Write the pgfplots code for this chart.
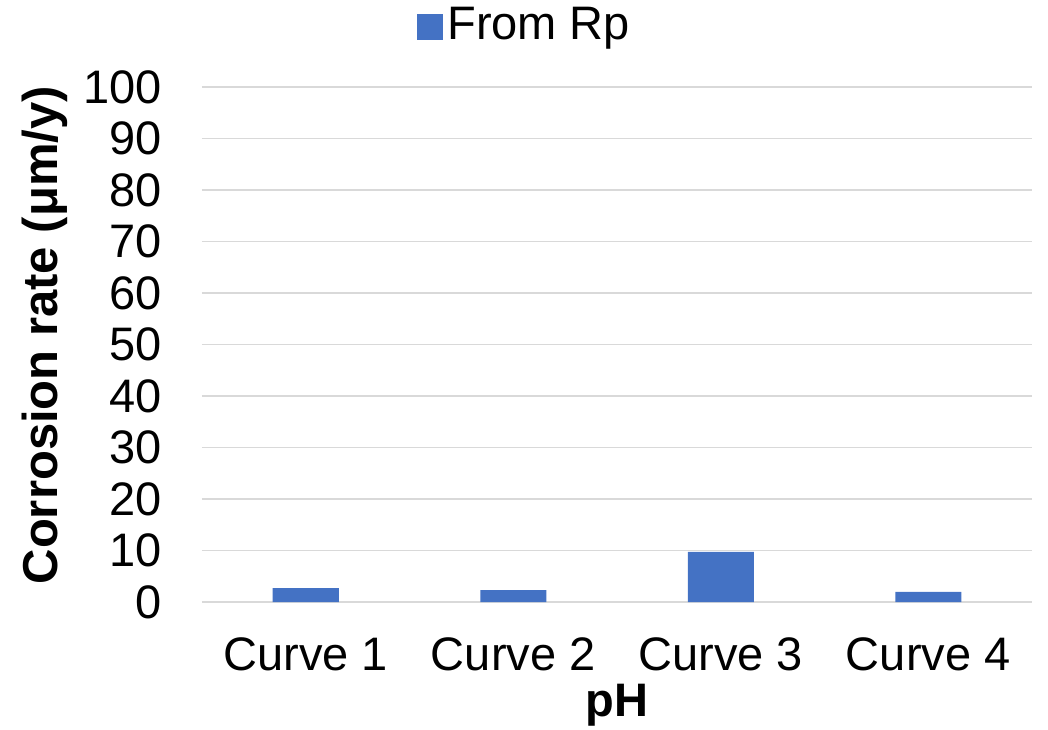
\documentclass[border=0pt]{standalone}
\usepackage{pgfplots}
\pgfplotsset{compat=1.18}
\usepackage{fontspec}
\setmainfont{Liberation Sans}
\definecolor{barblue}{HTML}{4472C4}
\definecolor{gridgray}{HTML}{D9D9D9}
\newcommand{\chartfont}{\fontsize{23.5}{28}\selectfont}
\begin{document}
\chartfont
\begin{tikzpicture}
\useasboundingbox (0,0) rectangle (524pt,364.5pt);
\begin{axis}[
  at={(101pt,63.5pt)}, anchor=south west,
  scale only axis,
  width=415pt, height=257.5pt,
  ybar, bar width=33pt,
  xmin=-0.5, xmax=3.5,
  ymin=0, ymax=100,
  ytick={0,10,...,100},
  xtick=data,
  xticklabels={Curve 1,Curve 2,Curve 3,Curve 4},
  /pgf/number format/assume math mode=true,
  ticklabel style={font=\chartfont},
  yticklabel style={xshift=-12pt},
  xticklabel style={yshift=-10pt},
  major tick length=0pt,
  ymajorgrids, grid style={gridgray, line width=0.8pt},
  axis x line*=bottom, axis y line*=left,
  x axis line style={gridgray, line width=0.8pt, -},
  y axis line style={draw=none},
  xlabel={\textbf{pH}},
  xlabel style={at={(axis description cs:0.5,-0.2)}, anchor=center, font=\chartfont},
  ylabel={\textbf{Corrosion rate (μm/y)}},
  ylabel style={at={(axis description cs:-0.189,0.518)}, anchor=center, font=\fontsize{24.5}{29}\selectfont},
  legend style={at={(axis description cs:0.39,1.117)}, anchor=center, draw=none, fill=none, font=\chartfont, inner sep=0pt},
  legend image code/.code={\fill[#1] (0pt,-6.5pt) rectangle (13pt,6.5pt);},
]
\addplot[fill=barblue, draw=none] coordinates {(0,2.68) (1,2.29) (2,9.74) (3,1.96)};
\addlegendentry{From Rp}
\end{axis}
\end{tikzpicture}
\end{document}
